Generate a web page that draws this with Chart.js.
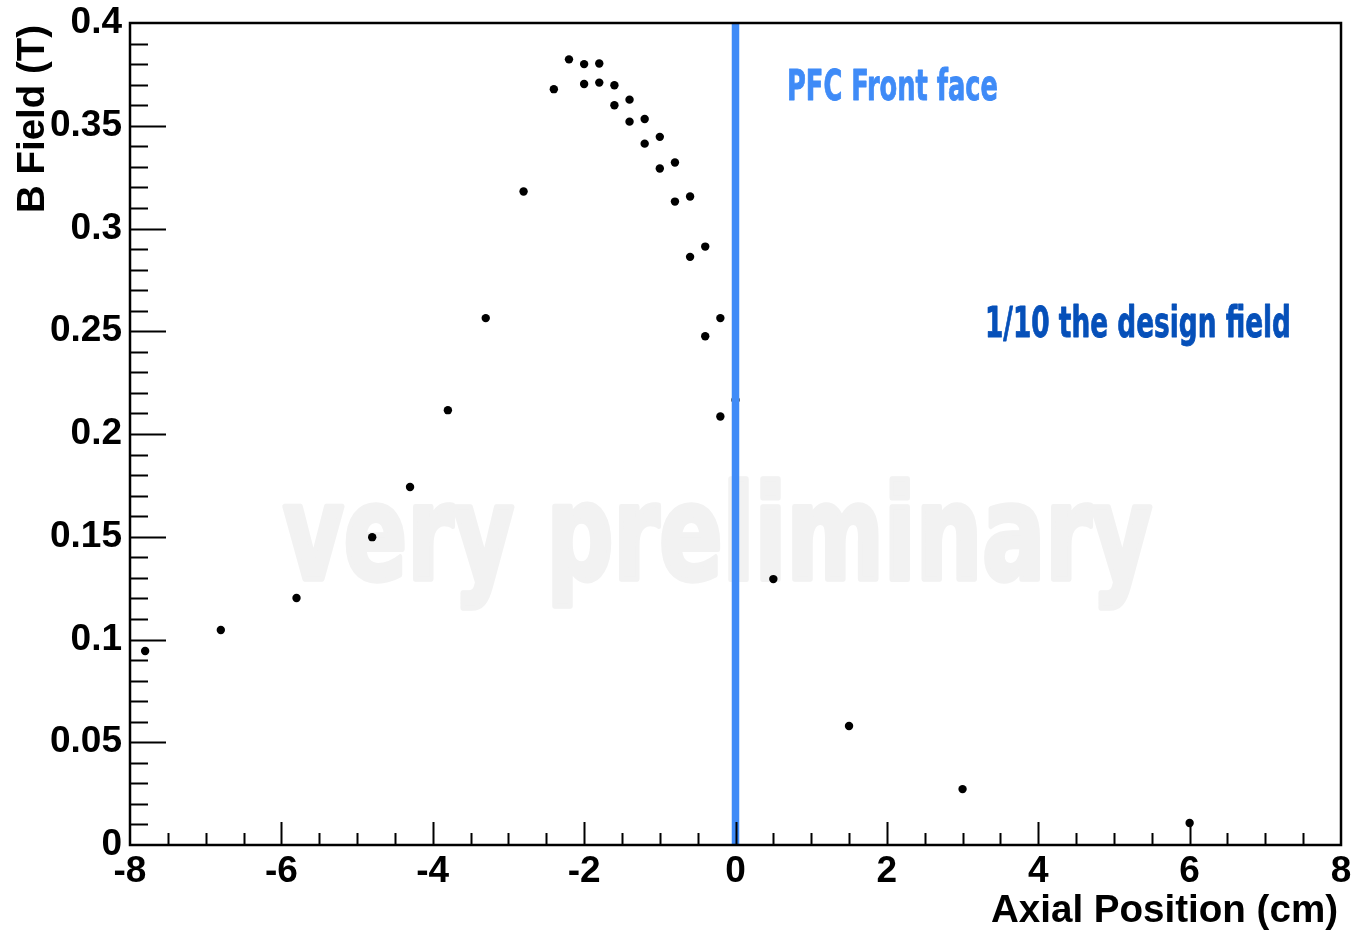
<!DOCTYPE html>
<html>
<head>
<meta charset="utf-8">
<title>B Field vs Axial Position</title>
<script src="https://cdn.jsdelivr.net/npm/chart.js@4/dist/chart.umd.min.js"></script>
<style>
  html, body { margin: 0; padding: 0; background: #fff; }
  canvas { display: block; }
</style>
</head>
<body>
<canvas id="fieldChart" width="1353" height="931"></canvas>
<script>
// measured field along the axis (cm, tesla)
let axialPos = [-7.8, -6.8, -5.8, -4.8, -4.3, -3.8, -3.3, -2.8, -2.4, -2.2,
                -2.0, -2.0, -1.8, -1.8, -1.6, -1.6, -1.4, -1.4, -1.2, -1.2,
                -1.0, -1.0, -0.8, -0.8, -0.6, -0.6, -0.4, -0.4, -0.2, -0.2,
                0.0, 0.5, 1.5, 3.0, 6.0];
let bField = [0.0944, 0.1046, 0.1202, 0.1498, 0.1742, 0.2116, 0.2564, 0.318, 0.3678, 0.3823,
              0.380, 0.3703, 0.3803, 0.371, 0.3697, 0.360, 0.3627, 0.352, 0.3533, 0.3413,
              0.3446, 0.3292, 0.3321, 0.3131, 0.3156, 0.2862, 0.2912, 0.2476, 0.2564, 0.2085,
              0.2165, 0.1294, 0.0579, 0.0272, 0.0107];

// front face of the PFC
let faceX = [0, 0];
let faceY = [0, 0.4];

let xRange = [-8, 8];
let yRange = [0, 0.4];

const blue = '#3f8bf7';
const tickFont = { family: '"Liberation Sans", Arial, sans-serif', weight: 'bold', size: 37 };

// draws text squeezed/stretched into a given width and cap height
function fitText(ctx, text, font, x, y, w, h, color, refChar, rot, stroke) {
    ctx.save();
    ctx.font = font;
    const width = ctx.measureText(text).width;
    const cap = ctx.measureText(refChar || 'H').actualBoundingBoxAscent;
    ctx.translate(x, y);
    if (rot) ctx.rotate(rot);
    ctx.scale(w / width, h / cap);
    ctx.textAlign = 'left';
    ctx.textBaseline = 'alphabetic';
    ctx.fillStyle = color;
    ctx.fillText(text, 0, 0);
    if (stroke) {
        ctx.strokeStyle = color;
        ctx.lineWidth = stroke;
        ctx.lineJoin = 'round';
        ctx.strokeText(text, 0, 0);
    }
    ctx.restore();
}

const narrow = 'bold 100px "Liberation Sans Narrow", "DejaVu Sans Condensed", "Liberation Sans", sans-serif';
const helv = 'bold 100px "Liberation Sans", Arial, sans-serif';

const framePlugin = {
    id: 'frame',
    beforeDatasetsDraw(chart) {
        const ctx = chart.ctx;
        fitText(ctx, 'very preliminary', narrow, 283, 579, 869, 100, '#f2f2f2', 'l', 0, 4);
    },
    afterDraw(chart) {
        const ctx = chart.ctx;
        const a = chart.chartArea;
        const xs = chart.scales.x, ys = chart.scales.y;

        ctx.save();
        ctx.strokeStyle = '#000';
        ctx.lineWidth = 2;
        ctx.beginPath();
        // y ticks: minor every 0.01, major every 0.05
        for (let i = 1; i < 40; i++) {
            const py = Math.round(ys.getPixelForValue(i / 100)) + 0.5;
            const len = i % 5 === 0 ? 36 : 18;
            ctx.moveTo(a.left, py);
            ctx.lineTo(a.left + len, py);
        }
        // x ticks: minor every 0.5, major every 2
        for (let i = -15; i < 16; i++) {
            const px = Math.round(xs.getPixelForValue(i / 2)) + 0.5;
            const len = i % 4 === 0 ? 23 : 12;
            ctx.moveTo(px, a.bottom);
            ctx.lineTo(px, a.bottom - len);
        }
        ctx.stroke();

        ctx.lineWidth = 2.5;
        ctx.strokeRect(a.left, a.top, a.right - a.left, a.bottom - a.top);
        ctx.restore();

        fitText(ctx, 'PFC Front face', narrow, 787, 99.5, 211, 31, blue, 'H', 0, 2);
        fitText(ctx, '1/10 the design field', narrow, 985, 337, 306, 31, '#0650b9', 'H', 0, 2);

        fitText(ctx, 'Axial Position (cm)', helv, 991, 921.5, 347, 26.5, '#000', 'H');
        fitText(ctx, 'B Field (T)', helv, 43.5, 213, 188, 27, '#000', 'B', -Math.PI / 2);
    }
};

let ctx = document.getElementById('fieldChart').getContext('2d');

let fieldChart = new Chart(ctx, {
    data: {
        datasets: [{
            type: 'line',
            data: faceX.map((x, i) => ({ x: x, y: faceY[i] })),
            borderColor: blue,
            borderWidth: 7.5,
            pointRadius: 0
        }, {
            type: 'scatter',
            data: axialPos.map((x, i) => ({ x: x, y: bField[i] })),
            backgroundColor: '#000',
            borderWidth: 0,
            pointRadius: 4.2
        }]
    },
    options: {
        responsive: false,
        animation: false,
        layout: {
            padding: { top: 23, right: 12, left: 0, bottom: 0 }
        },
        plugins: {
            legend: { display: false },
            tooltip: { enabled: false }
        },
        scales: {
            x: {
                type: 'linear',
                min: xRange[0],
                max: xRange[1],
                grid: { display: false, drawTicks: false },
                border: { display: false },
                ticks: {
                    stepSize: 2,
                    color: '#000',
                    font: tickFont,
                    padding: 5,
                    maxRotation: 0,
                    callback: (v) => String(v)
                },
                afterFit: (s) => {
                    s.height = 86;
                    s.paddingLeft = 0;
                    s.paddingRight = 0;
                }
            },
            y: {
                type: 'linear',
                min: yRange[0],
                max: yRange[1],
                grid: { display: false, drawTicks: false },
                border: { display: false },
                ticks: {
                    stepSize: 0.05,
                    color: '#000',
                    font: tickFont,
                    padding: 8,
                    callback: (v) => String(+v.toFixed(2))
                },
                afterFit: (s) => {
                    s.width = 130;
                    s.paddingTop = 0;
                    s.paddingBottom = 0;
                }
            }
        }
    },
    plugins: [framePlugin]
});
</script>
</body>
</html>
